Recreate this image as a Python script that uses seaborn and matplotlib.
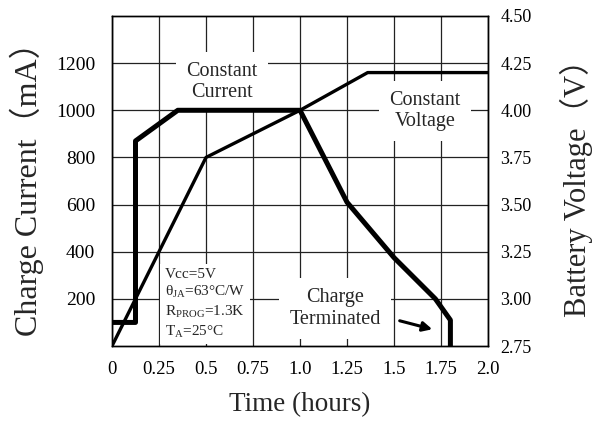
import matplotlib
matplotlib.use("Agg")
import matplotlib.pyplot as plt
import seaborn as sns
import numpy as np

# ---- data ----
current_t = [0.0, 0.125, 0.125, 0.35, 1.0, 1.25, 1.5, 1.72, 1.80, 1.80]
current_ma = [100, 100, 870, 1000, 1000, 610, 375, 200, 110, 0]
voltage_t = [0.0, 0.5, 1.0, 1.36, 2.0]
voltage_v = [2.75, 3.75, 4.0, 4.2, 4.2]
x_ticks = [0, 0.25, 0.5, 0.75, 1.0, 1.25, 1.5, 1.75, 2.0]
x_tick_labels = ["0", "0.25", "0.5", "0.75", "1.0", "1.25", "1.5", "1.75", "2.0"]
left_ticks = [200, 400, 600, 800, 1000, 1200]
right_ticks = [2.75, 3.00, 3.25, 3.50, 3.75, 4.00, 4.25, 4.50]

sns.set_theme(style="white")
plt.rcParams['font.family'] = ['Liberation Serif', 'Noto Sans CJK SC', 'DejaVu Sans']
plt.rcParams['mathtext.fontset'] = 'custom'
plt.rcParams['mathtext.rm'] = 'Liberation Serif'
plt.rcParams['mathtext.it'] = 'Liberation Serif:italic'

fig = plt.figure(figsize=(6.05, 4.21), dpi=100)
fig.patch.set_facecolor('white')
ax = fig.add_axes([112/605, 1-346/421, (488-112)/605, (346-16)/421])
ax.set_facecolor('white')

sns.lineplot(x=current_t, y=current_ma, ax=ax, sort=False, estimator=None,
             color='black', linewidth=3.6, zorder=4)
ax.set_xlim(0, 2.0)
ax.set_ylim(0, 1400)
ax.set_xticks(x_ticks)
ax.set_xticklabels(x_tick_labels, fontsize=13.5)
ax.set_yticks(left_ticks)
ax.set_yticklabels([str(v) for v in left_ticks], fontsize=14)
ax.tick_params(axis='x', length=0, pad=11, colors='black')
ax.tick_params(axis='y', length=0, pad=12, colors='black')
ax.set_axisbelow(True)
ax.grid(True, color='#222222', linewidth=0.9)
for s in ax.spines.values():
    s.set_color('black')
    s.set_linewidth(1.0)

ax.set_xlabel("Time (hours)", fontsize=19.5, labelpad=10)
ax.set_ylabel("Charge Current（mA）", fontsize=23, labelpad=9)

ax2 = ax.twinx()
sns.lineplot(x=voltage_t, y=voltage_v, ax=ax2, sort=False, estimator=None,
             color='black', linewidth=2.4, zorder=4)
ax2.set_ylim(2.75, 4.5)
ax2.set_yticks(right_ticks)
ax2.set_yticklabels([f"{v:.2f}" for v in right_ticks], fontsize=13)
ax2.tick_params(axis='y', length=0, pad=9, colors='black')
ax2.grid(False)
ax2.set_ylabel("Battery Voltage（V）", fontsize=22, labelpad=20)
for s in ax2.spines.values():
    s.set_color('black')
    s.set_linewidth(1.0)

box = dict(boxstyle='square,pad=0.5', facecolor='white', edgecolor='none')
ax.text(0.585, 1120, "Constant\nCurrent", ha='center', va='center', fontsize=14.5,
        linespacing=1.2, bbox=box, zorder=2)
ax.text(1.665, 997, "Constant\nVoltage", ha='center', va='center', fontsize=14.5,
        linespacing=1.2, bbox=box, zorder=2)
ax.text(1.186, 160, "Charge\nTerminated", ha='center', va='center', fontsize=14.5,
        linespacing=1.2, bbox=box, zorder=2)
ax.text(0.282, 180,
        "Vcc=5V\nθ$_\\mathregular{JA}$=63°C/W\nR$_\\mathregular{PROG}$=1.3K\nT$_\\mathregular{A}$=25°C",
        ha='left', va='center', fontsize=11, linespacing=1.3,
        bbox=dict(boxstyle='square,pad=0.3', facecolor='white', edgecolor='none'), zorder=2)
ax.annotate('', xy=(1.718, 68), xytext=(1.516, 110),
            arrowprops=dict(arrowstyle='-|>', color='black', lw=2.2, mutation_scale=14),
            zorder=5)

fig.savefig("out.png", dpi=100)
